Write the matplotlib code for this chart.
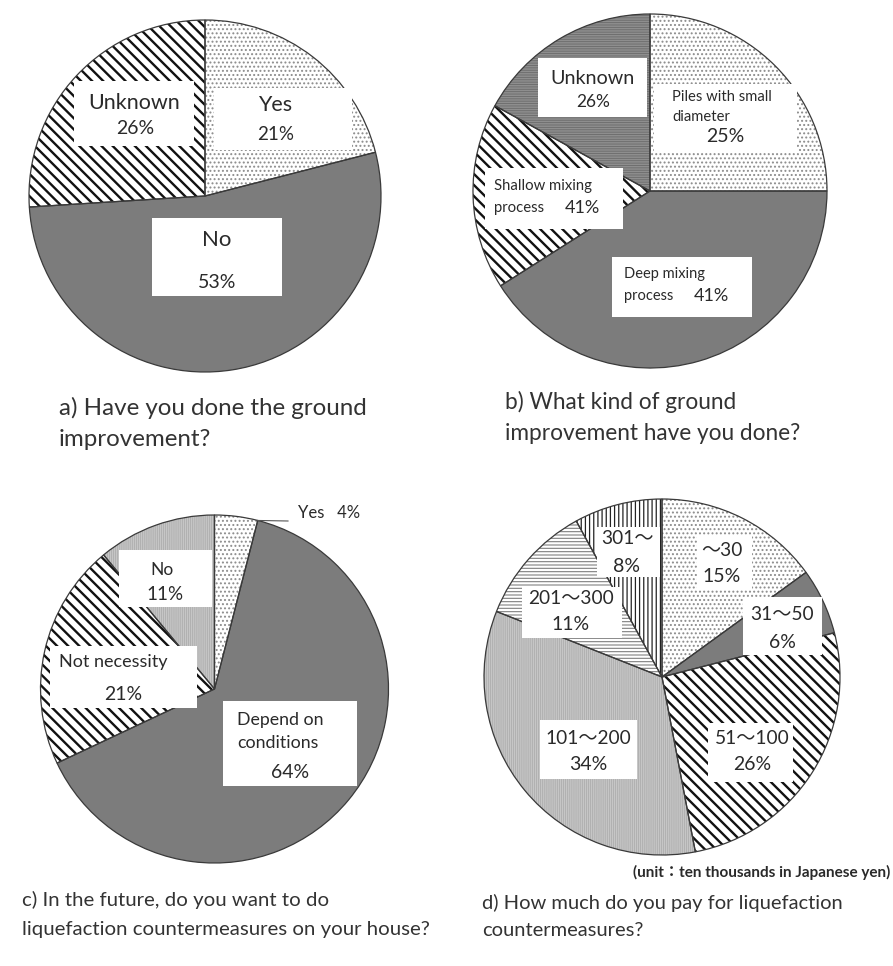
import matplotlib
matplotlib.use("Agg")
import numpy as np
import matplotlib.pyplot as plt
from matplotlib.patches import Rectangle

plt.rcParams['font.family'] = ['Lato', 'Noto Sans CJK JP', 'DejaVu Sans']

W, H = 893, 966

# a) Have you done the ground improvement?
a_names = ['Yes', 'No', 'Unknown']
a_values = [21, 53, 26]

# b) What kind of ground improvement have you done?
# slice shares as drawn, and the percentages printed on them (multiple answers)
b_names = ['Piles with small\ndiameter', 'Deep mixing\nprocess', 'Shallow mixing\nprocess', 'Unknown']
b_values = [25, 41, 17, 17]
b_printed = ['25%', '41%', '41%', '26%']

# c) future countermeasures
c_names = ['Yes', 'Depend on\nconditions', 'Not necessity', 'No']
c_values = [4, 64, 21, 11]

# d) budget for countermeasures (ten thousand yen)
d_names = ['〜30', '31〜50', '51〜100', '101〜200', '201〜300', '301〜']
d_values = [15, 6, 26, 34, 11, 8]

# fill styles
DOTS = dict(face='white', hatch='....', hc='#8c8c8c', hlw=0.9)
DARK = dict(face='#7c7c7c', hatch=None)
DIAG = dict(face='white', hatch='\\\\\\', hc='#111111', hlw=1.7)
HLINE = dict(face='#8e8e8e', hatch='-------', hc='#6a6a6a', hlw=0.6)
VFINE = dict(face='#c6c6c6', hatch='||||||||', hc='#a8a8a8', hlw=0.5)
VLINE = dict(face='white', hatch='||||', hc='#222222', hlw=0.9)
DASH = dict(face='white', hatch='-----', hc='#808080', hlw=0.8)

PAD = 1.03
TXT = '#2a2a2a'

fig = plt.figure(figsize=(W / 100, H / 100), dpi=100)


def draw_pie(cx, cy, r, values, styles):
    ax = fig.add_axes([(cx - r * PAD) / W, 1 - (cy + r * PAD) / H,
                       2 * r * PAD / W, 2 * r * PAD / H])
    wedges, _ = ax.pie(values, startangle=90, counterclock=False, radius=1,
                       wedgeprops=dict(linewidth=0))
    for w, st in zip(wedges, styles):
        w.set_facecolor(st['face'])
        if st['hatch']:
            w.set_hatch(st['hatch'])
            w.set_edgecolor(st['hc'])
            if hasattr(w, 'set_hatch_linewidth'):
                w.set_hatch_linewidth(st['hlw'])
        else:
            w.set_edgecolor(st['face'])
        w.set_linewidth(0)
    # outlines on top
    ax.pie(values, startangle=90, counterclock=False, radius=1,
           wedgeprops=dict(fill=False, edgecolor='#3a3a3a', linewidth=0.9))
    ax.set_xlim(-PAD, PAD)
    ax.set_ylim(-PAD, PAD)
    ax.set_aspect('equal')
    ax.axis('off')
    return ax


draw_pie(205, 196, 176, a_values, [DOTS, DARK, DIAG])
draw_pie(650, 191, 177, b_values, [DOTS, DARK, DIAG, HLINE])
draw_pie(214.5, 689, 174, c_values, [DOTS, DARK, DIAG, VFINE])
draw_pie(662, 677, 178, d_values, [DOTS, DARK, DIAG, VFINE, DASH, VLINE])

# overlay in pixel coordinates for label boxes and texts
ov = fig.add_axes([0, 0, 1, 1])
ov.set_xlim(0, W)
ov.set_ylim(H, 0)
ov.axis('off')
ov.patch.set_alpha(0)


def box(x0, y0, x1, y1):
    ov.add_patch(Rectangle((x0, y0), x1 - x0, y1 - y0, fc='white', ec='none'))


def txt(s, x, y, size, ha='center', **kw):
    ov.text(x, y, s, fontsize=size, ha=ha, va='center', color=kw.pop('color', TXT), **kw)


# --- a
box(74, 81, 194, 146)
box(214, 88, 352, 150)
box(152, 218, 282, 296)
txt(a_names[2], 134, 103, 15.5)
txt(f'{a_values[2]}%', 135, 129, 14)
txt(a_names[0], 275, 105, 15.5)
txt(f'{a_values[0]}%', 276, 134, 13.5)
txt(a_names[1], 217, 240, 16)
txt(f'{a_values[1]}%', 217, 282, 14)

# --- b
box(538, 58, 647, 117)
box(654, 84, 797, 152)
box(485, 168, 623, 229)
box(612, 257, 752, 317)
txt(b_names[3], 592, 78, 14.2)
txt(b_printed[3], 593, 102, 12.5)
for line, y in zip(b_names[0].split('\n'), (97, 117)):
    txt(line, 672, y, 10.6, ha='left')
txt(b_printed[0], 725, 137, 14)
for line, y in zip(b_names[2].split('\n'), (186, 208)):
    txt(line, 494, y, 10.7, ha='left')
txt(b_printed[2], 582, 208, 13)
for line, y in zip(b_names[1].split('\n'), (274, 296)):
    txt(line, 624, y, 10.5, ha='left')
txt(b_printed[1], 711, 296, 13)

# --- c
box(119, 550, 212, 607)
box(50, 646, 197, 708)
box(223, 701, 357, 786)
# leader for the small "Yes" slice
cx, cy, r = 214.5, 689, 174
ang = np.deg2rad(90 - 360 * c_values[0] / sum(c_values))
ov.plot([cx + r * np.cos(ang), 288], [cy - r * np.sin(ang), 521], color='#555555', lw=0.8)
txt(f'{c_names[0]}   {c_values[0]}%', 298, 513, 12, ha='left')
txt(c_names[3], 162, 570, 12.5)
txt(f'{c_values[3]}%', 165, 595, 13.5)
txt(c_names[2], 113, 662, 13)
txt(f'{c_values[2]}%', 123, 694, 14)
for line, y in zip(c_names[1].split('\n'), (720, 743)):
    txt(line, 237, y, 12.8, ha='left')
txt(f'{c_values[1]}%', 290, 773, 14)

# --- d
d_boxes = [(697, 536, 752, 590), (743, 597, 822, 655), (708, 723, 793, 782),
           (540, 720, 637, 779), (522, 587, 622, 638), (597, 527, 660, 577)]
d_pos = [(722, 550, 577), (782, 615, 642), (752, 739, 765),
         (588, 739, 765), (571, 598, 625), (627, 538, 566)]
for name, v, b, (x, y1, y2) in zip(d_names, d_values, d_boxes, d_pos):
    box(*b)
    txt(name, x, y1, 13.8)
    txt(f'{v}%', x, y2, 14)

txt('(unit：ten thousands in Japanese yen)', 890, 872, 11, ha='right', fontweight='bold')

# captions
TC = '#333333'
txt('a) Have you done the ground', 59, 408, 17.4, ha='left', color=TC)
txt('improvement?', 59, 440, 17.4, ha='left', color=TC)
txt('b) What kind of ground', 505, 402, 16.3, ha='left', color=TC)
txt('improvement have you done?', 505, 433, 16.3, ha='left', color=TC)
txt('c) In the future, do you want to do', 22, 900, 14.7, ha='left', color=TC)
txt('liquefaction countermeasures on your house?', 22, 930, 14.7, ha='left', color=TC)
txt('d) How much do you pay for liquefaction', 482, 903, 14.5, ha='left', color=TC)
txt('countermeasures?', 482, 930, 14.5, ha='left', color=TC)

fig.savefig('out.png', dpi=100)
